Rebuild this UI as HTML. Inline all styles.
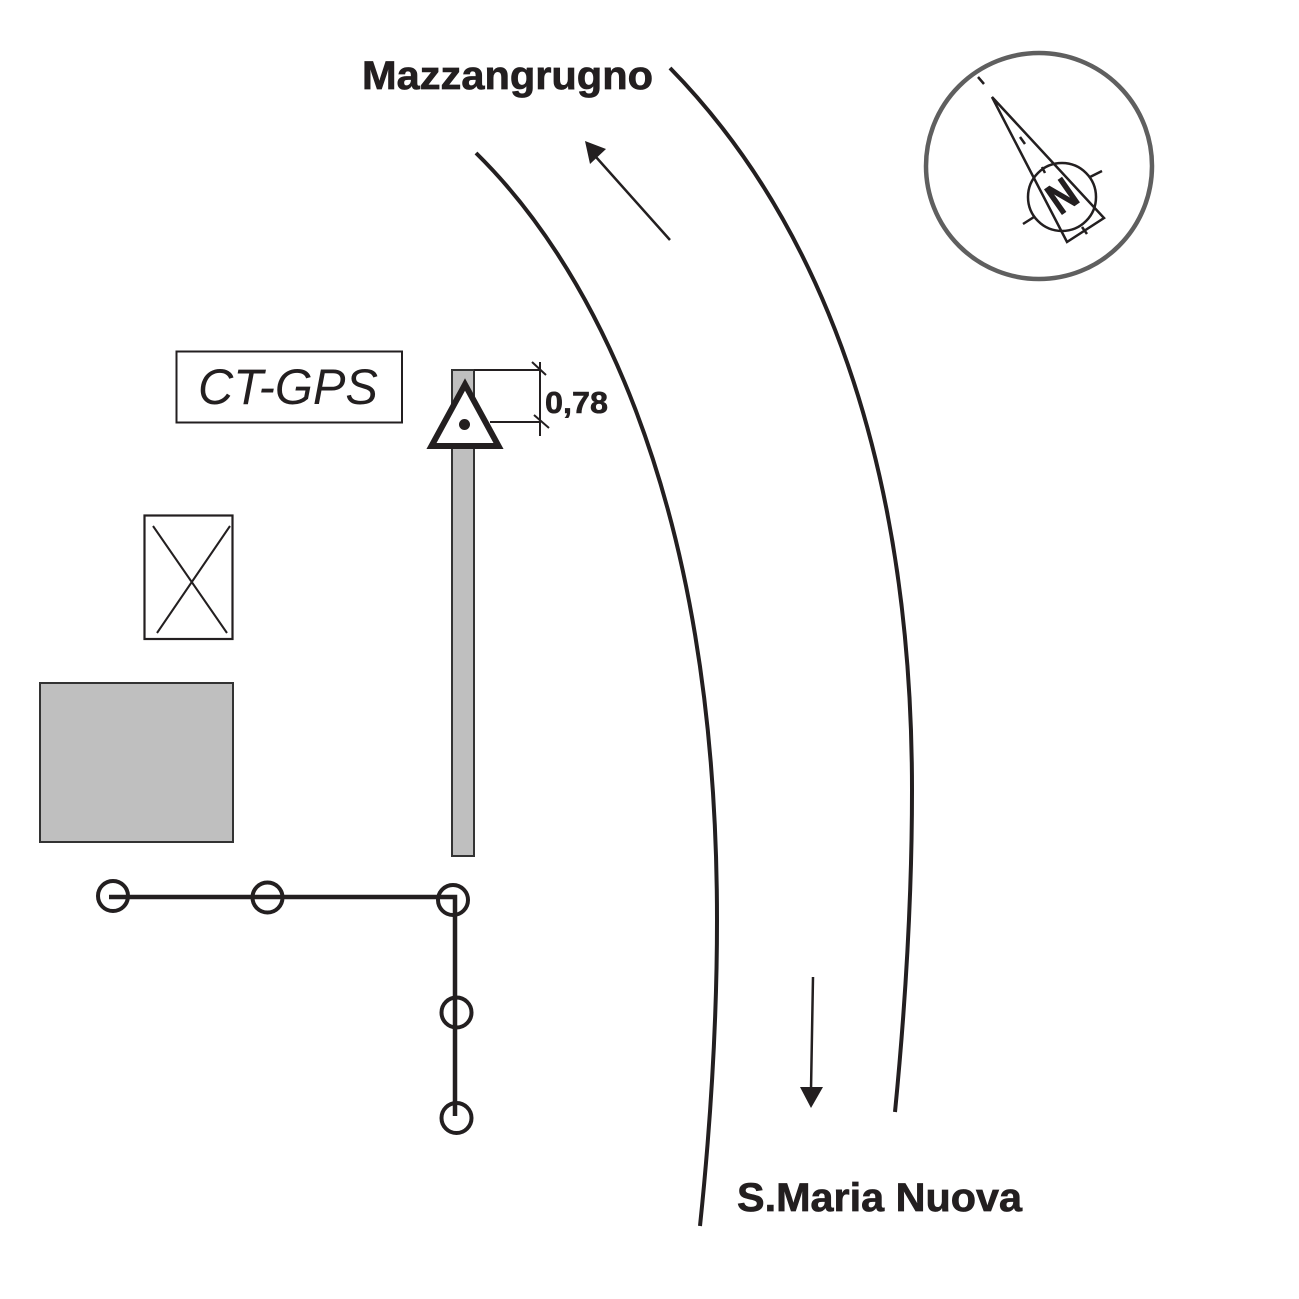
<!DOCTYPE html>
<html><head><meta charset="utf-8"><style>html,body{margin:0;padding:0;background:#fff}svg{display:block}text{font-family:"Liberation Sans",sans-serif;fill:#231f20}</style></head>
<body><svg width="1299" height="1299" viewBox="0 0 1299 1299" xmlns="http://www.w3.org/2000/svg">
<g fill="none" stroke="#231f20">
<path d="M670 68C770 170 912 380 912 790C912 900 905 1010 895 1112" stroke-width="4"/>
<path d="M476 153C580 255 717 480 717 920C717 1030 710 1130 700 1226" stroke-width="4"/>
<rect x="144.5" y="515.5" width="88" height="123.500" stroke-width="2.200"/>
<path d="M153 526L227 633M230 526L157 633" stroke-width="2"/>
<rect x="176.500" y="351.500" width="225.500" height="71" stroke-width="2"/>
<path d="M670 240L596 157M813 977L811 1090" stroke-width="2.500"/>
</g>
<path d="M585 141L606 149L590 164Z M800 1087H823L811 1108Z" fill="#231f20"/>
<rect x="40" y="683" width="193" height="159" fill="#bfbfbf" stroke="#333" stroke-width="2"/>
<rect x="452" y="370" width="22" height="486" fill="#bfbfbf" stroke="#333" stroke-width="2"/>
<path d="M474 370H540M490 422H540M540 362V436M532 362L546 375M534 415L549 428" fill="none" stroke="#231f20" stroke-width="2"/>
<path d="M465 384.500L431.500 446H498.500Z" fill="#fff" stroke="#231f20" stroke-width="6"/>
<circle cx="464.500" cy="424.500" r="5.500" fill="#231f20"/>
<path d="M109 897H455V1116" fill="none" stroke="#231f20" stroke-width="4.500"/>
<g fill="none" stroke="#231f20" stroke-width="4">
<circle cx="113" cy="896" r="15"/><circle cx="267.500" cy="897.500" r="15"/><circle cx="453" cy="900" r="15"/><circle cx="456.500" cy="1012.500" r="15"/><circle cx="456.500" cy="1118" r="15"/>
</g>
<circle cx="1039" cy="166" r="113" fill="none" stroke="#5f5f5f" stroke-width="4.500"/>
<g fill="none" stroke="#231f20">
<circle cx="1062" cy="197" r="34" stroke-width="2.500"/>
<path d="M992 97L1067 242L1104 218Z" stroke-width="2.500" stroke-linejoin="miter"/>
<path d="M978 77L984 84M1020 137L1025 144M1042 167L1045 173M1090 177L1102 171M1023 224L1034 217M1082 227L1087 234" stroke-width="2.500"/>
</g>
<text x="0" y="15" transform="translate(1062 196) rotate(-35) scale(.82 1)" text-anchor="middle" font-size="44" font-weight="700" stroke="#231f20" stroke-width="1">N</text>
<text x="362" y="89" font-size="40" font-weight="700" textLength="291" lengthAdjust="spacingAndGlyphs" stroke="#231f20" stroke-width=".7">Mazzangrugno</text>
<text x="737" y="1211" font-size="40" font-weight="700" textLength="285" lengthAdjust="spacingAndGlyphs" stroke="#231f20" stroke-width=".7">S.Maria Nuova</text>
<text x="545" y="413" font-size="31" font-weight="700" textLength="63" lengthAdjust="spacingAndGlyphs" stroke="#231f20" stroke-width=".6">0,78</text>
<text x="198" y="404" font-size="50" font-style="italic" textLength="180" lengthAdjust="spacingAndGlyphs">CT-GPS</text>
</svg></body></html>
